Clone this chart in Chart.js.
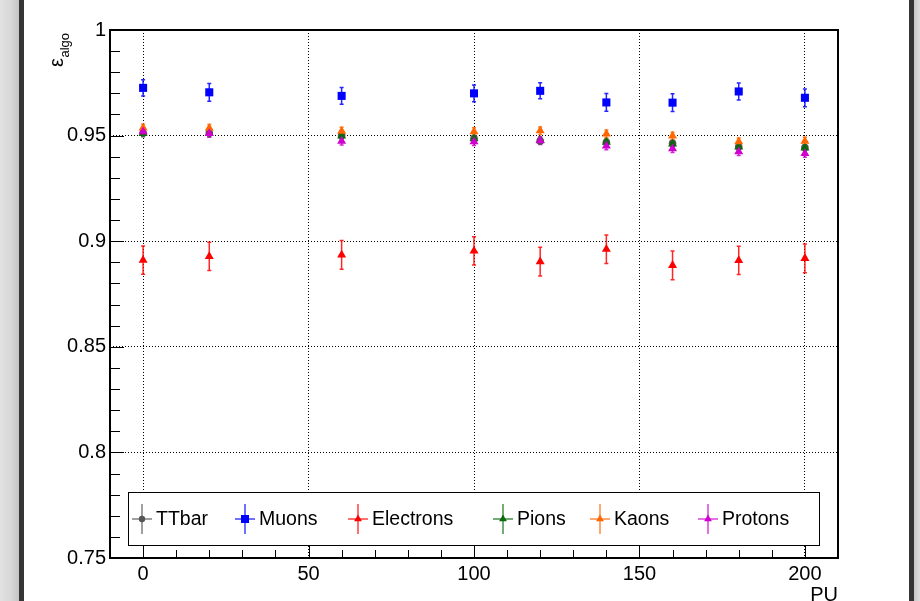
<!DOCTYPE html>
<html>
<head>
<meta charset="UTF-8">
<title>Algorithmic efficiency vs PU</title>
<script src="https://cdn.jsdelivr.net/npm/chart.js"></script>
<style>
body { margin: 0; background: #fff; width: 920px; height: 601px; overflow: hidden; position: relative; font-family: "Liberation Sans", Arial, sans-serif; }
.edge-left { position: absolute; left: 0; top: 0; width: 19px; height: 601px; background: linear-gradient(to right, #e2e2e2, #d6d6d6 60%, #c4c4c4); }
.bar-left { position: absolute; left: 19px; top: 0; width: 5px; height: 601px; background: #353535; }
.bar-right { position: absolute; left: 909px; top: 0; width: 5px; height: 601px; background: #353535; }
.edge-right { position: absolute; left: 914px; top: 0; width: 6px; height: 601px; background: linear-gradient(to right, #c8c8c8, #dedede); }
canvas { position: absolute; left: 0; top: 0; }
</style>
</head>
<body>
<div class="edge-left"></div>
<div class="bar-left"></div>
<div class="bar-right"></div>
<div class="edge-right"></div>
<canvas id="effChart" width="920" height="601"></canvas>
<script>
// Pile-up points and efficiencies
const pileUp = [0, 20, 60, 100, 120, 140, 160, 180, 200];

const ttbar     = [0.9512, 0.9512, 0.9500, 0.9487, 0.9475, 0.9468, 0.9463, 0.9447, 0.9444];
const muons     = [0.9726, 0.9705, 0.9688, 0.9700, 0.9712, 0.9657, 0.9656, 0.9709, 0.9679];
const electrons = [0.8910, 0.8928, 0.8935, 0.8954, 0.8903, 0.8962, 0.8886, 0.8909, 0.8919];
const pions     = [0.9510, 0.9510, 0.9498, 0.9485, 0.9477, 0.9469, 0.9461, 0.9446, 0.9442];
const kaons     = [0.9536, 0.9535, 0.9521, 0.9519, 0.9523, 0.9508, 0.9498, 0.9471, 0.9474];
const protons   = [0.9519, 0.9510, 0.9474, 0.9471, 0.9476, 0.9451, 0.9438, 0.9424, 0.9416];

const ttbarErr     = [0.0012, 0.0012, 0.0012, 0.0012, 0.0012, 0.0012, 0.0012, 0.0012, 0.0012];
const muonsErr     = [0.0038, 0.0042, 0.0040, 0.0040, 0.0038, 0.0042, 0.0042, 0.0040, 0.0042];
const electronsErr = [0.0067, 0.0067, 0.0068, 0.0067, 0.0068, 0.0067, 0.0068, 0.0067, 0.0068];
const pionsErr     = [0.0015, 0.0015, 0.0015, 0.0015, 0.0015, 0.0015, 0.0015, 0.0015, 0.0015];
const kaonsErr     = [0.0018, 0.0018, 0.0018, 0.0018, 0.0018, 0.0018, 0.0018, 0.0018, 0.0018];
const protonsErr   = [0.0018, 0.0018, 0.0018, 0.0018, 0.0018, 0.0018, 0.0018, 0.0018, 0.0018];

const xTicks = [0, 50, 100, 150, 200];
const yTicks = [0.75, 0.8, 0.85, 0.9, 0.95, 1];

const FONT = '"Liberation Sans", Arial, sans-serif';

const series = [
    {label: 'TTbar',     values: ttbar,     errors: ttbarErr,     color: '#555555', style: 'circle',   radius: 3.8, order: 5},
    {label: 'Muons',     values: muons,     errors: muonsErr,     color: '#0000ff', style: 'rect',     radius: 5.7, order: 4},
    {label: 'Electrons', values: electrons, errors: electronsErr, color: '#ff0000', style: 'triangle', radius: 5.2, order: 3},
    {label: 'Pions',     values: pions,     errors: pionsErr,     color: '#0a6a0a', style: 'triangle', radius: 5.2, order: 2},
    {label: 'Kaons',     values: kaons,     errors: kaonsErr,     color: '#ff6600', style: 'triangle', radius: 5.2, order: 1},
    {label: 'Protons',   values: protons,   errors: protonsErr,   color: '#d000d0', style: 'triangle', radius: 5.2, order: 0},
];

// Legend placement (ROOT TLegend inside the frame)
const legendBox   = {left: 128, top: 492, right: 819, bottom: 545};
const legendMarks = [142, 245, 358, 503, 600, 708];

const toPoints = (values) => values.map((v, i) => ({x: pileUp[i], y: v}));

const drawMarker = (ctx, style, x, y, r) => {
    ctx.beginPath();
    if (style === 'circle')
    {
        ctx.arc(x, y, r, 0, Math.PI * 2);
    }
    else if (style === 'rect')
    {
        ctx.rect(x - r, y - r, r * 2, r * 2);
    }
    else
    {
        ctx.moveTo(x, y - r);
        ctx.lineTo(x + r * 0.87, y + r * 0.5);
        ctx.lineTo(x - r * 0.87, y + r * 0.5);
        ctx.closePath();
    }
    ctx.fill();
};

const errorBars = {
    id: 'errorBars',
    beforeDatasetsDraw(chart)
    {
        const {ctx, scales: {x, y}} = chart;
        chart.data.datasets.forEach((ds) => {
            ctx.save();
            ctx.strokeStyle = ds.borderColor;
            ctx.globalAlpha = 0.85;
            ctx.lineWidth   = 1.5;
            ds.data.forEach((pt, j) => {
                const px     = x.getPixelForValue(pt.x);
                const top    = y.getPixelForValue(pt.y + ds.errors[j]);
                const bottom = y.getPixelForValue(pt.y - ds.errors[j]);
                ctx.beginPath();
                ctx.moveTo(px, top);
                ctx.lineTo(px, bottom);
                ctx.moveTo(px - 2, top);
                ctx.lineTo(px + 2, top);
                ctx.moveTo(px - 2, bottom);
                ctx.lineTo(px + 2, bottom);
                ctx.stroke();
            });
            ctx.restore();
        });
    }
};

const frameAndLegend = {
    id: 'frameAndLegend',
    afterDraw(chart)
    {
        const {ctx, chartArea: area, scales: {x, y}} = chart;
        ctx.save();
        ctx.strokeStyle = '#000';

        // minor and major ticks pointing inwards, ROOT style
        ctx.lineWidth = 1;
        ctx.beginPath();
        for (let v = 0.75; v <= 1.0001; v += 0.01)
        {
            const py    = Math.round(y.getPixelForValue(v)) + 0.5;
            const major = Math.abs(v * 20 - Math.round(v * 20)) < 1e-6;
            ctx.moveTo(area.left, py);
            ctx.lineTo(area.left + (major ? 14 : 10), py);
        }
        for (let v = 0; v <= 200; v += 10)
        {
            const px    = Math.round(x.getPixelForValue(v)) + 0.5;
            const major = v % 50 === 0;
            ctx.moveTo(px, area.bottom);
            ctx.lineTo(px, area.bottom - (major ? 15 : 8));
        }
        ctx.stroke();

        // frame
        ctx.lineWidth = 2;
        ctx.strokeRect(area.left, area.top, area.right - area.left, area.bottom - area.top);

        // legend
        ctx.fillStyle = '#fff';
        ctx.fillRect(legendBox.left, legendBox.top, legendBox.right - legendBox.left, legendBox.bottom - legendBox.top);
        ctx.lineWidth = 1;
        ctx.strokeRect(legendBox.left + 0.5, legendBox.top + 0.5, legendBox.right - legendBox.left, legendBox.bottom - legendBox.top);
        const cy = 519;
        series.forEach((s, i) => {
            const mx = legendMarks[i];
            ctx.save();
            ctx.globalAlpha = 0.75;
            ctx.strokeStyle = s.color;
            ctx.lineWidth   = 1.5;
            ctx.beginPath();
            ctx.moveTo(mx - 10, cy);
            ctx.lineTo(mx + 10, cy);
            ctx.moveTo(mx, cy - 15);
            ctx.lineTo(mx, cy + 15);
            ctx.stroke();
            ctx.restore();
            ctx.fillStyle = s.color;
            drawMarker(ctx, s.style, mx, cy, s.style === 'rect' ? 4 : (s.style === 'circle' ? 3.2 : 4.5));
            ctx.fillStyle    = '#000';
            ctx.font         = '19.5px ' + FONT;
            ctx.textAlign    = 'left';
            ctx.textBaseline = 'middle';
            ctx.fillText(s.label, mx + 14, cy + 1);
        });

        // axis titles
        ctx.fillStyle    = '#000';
        ctx.font         = '20px ' + FONT;
        ctx.textAlign    = 'right';
        ctx.textBaseline = 'alphabetic';
        ctx.fillText('PU', area.right, 601);

        ctx.translate(63, 33);
        ctx.rotate(-Math.PI / 2);
        ctx.font = '13px ' + FONT;
        ctx.fillText('algo', 0, 5.5);
        const subWidth = ctx.measureText('algo').width;
        ctx.font = '20px ' + FONT;
        ctx.fillText('\u03b5', -subWidth - 0.5, 0);
        ctx.restore();
    }
};

new Chart(document.getElementById('effChart'), {
    type: 'scatter',
    data: {
        datasets: series.map((s) => ({
            label: s.label,
            data: toPoints(s.values),
            errors: s.errors,
            order: s.order,
            pointStyle: s.style,
            pointRadius: s.radius,
            pointHoverRadius: s.radius,
            pointBackgroundColor: s.color,
            pointBorderColor: s.color,
            pointBorderWidth: 0,
            borderColor: s.color,
            backgroundColor: s.color,
            showLine: false,
        }))
    },
    options: {
        responsive: false,
        animation: false,
        layout: {padding: {left: 0, top: 30, right: 82, bottom: 0}},
        plugins: {
            legend: {display: false},
            tooltip: {enabled: false},
        },
        scales: {
            x: {
                type: 'linear',
                min: -10,
                max: 210,
                afterBuildTicks: (scale) => { scale.ticks = xTicks.map((v) => ({value: v})); },
                afterFit: (scale) => { scale.height = 43; },
                grid: {color: '#000', lineWidth: 1, drawTicks: false},
                border: {display: false, dash: [1, 2]},
                ticks: {
                    color: '#000',
                    font: {family: FONT, size: 20},
                    padding: 4,
                    maxRotation: 0,
                    callback: (v) => String(v),
                },
            },
            y: {
                type: 'linear',
                min: 0.75,
                max: 1,
                afterBuildTicks: (scale) => { scale.ticks = yTicks.map((v) => ({value: v})); },
                afterFit: (scale) => { scale.width = 110; },
                grid: {color: '#000', lineWidth: 1, drawTicks: false},
                border: {display: false, dash: [1, 2]},
                ticks: {
                    color: '#000',
                    font: {family: FONT, size: 20},
                    padding: 4,
                    callback: (v) => String(Math.round(v * 100) / 100),
                },
            },
        },
    },
    plugins: [errorBars, frameAndLegend],
});
</script>
</body>
</html>
